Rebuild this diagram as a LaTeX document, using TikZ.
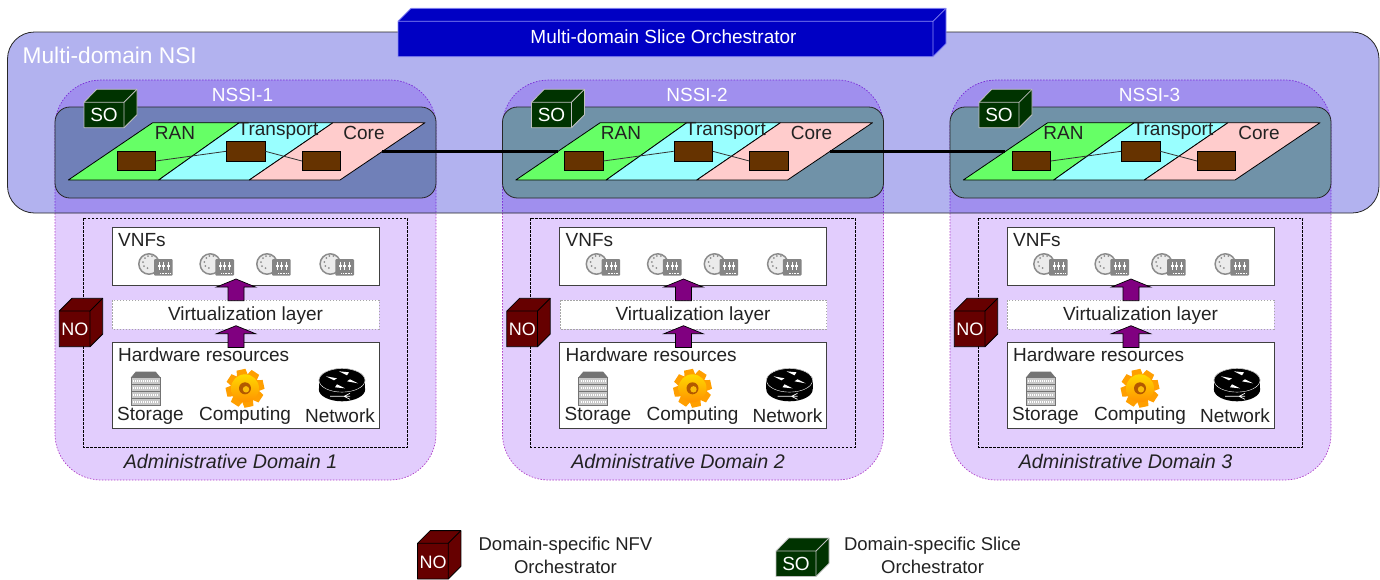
\documentclass[tikz,border=0pt]{standalone}
\usepackage{fontspec}
\setmainfont{Liberation Sans}
\usetikzlibrary{calc}
\definecolor{nsifill}{HTML}{B2B2EF}
\definecolor{domlight}{HTML}{E2CDFD}
\definecolor{domdark}{HTML}{A08FEE}
\definecolor{domline}{HTML}{B040C8}
\definecolor{slicea}{HTML}{7080B8}
\definecolor{sliceb}{HTML}{7092A8}
\definecolor{ranfill}{HTML}{66FF66}
\definecolor{transfill}{HTML}{99FFFF}
\definecolor{corefill}{HTML}{FFCCCC}
\definecolor{vnffill}{HTML}{663300}
\definecolor{sofill}{HTML}{003300}
\definecolor{nofill}{HTML}{660000}
\definecolor{mdsofill}{HTML}{0000C4}
\definecolor{mdsoline}{HTML}{8C8CF5}
\definecolor{arrowfill}{HTML}{800080}
\definecolor{inktext}{HTML}{222222}
\tikzset{
  txt/.style={inner sep=0pt,text=inktext,font=\fontsize{19}{23}\selectfont},
  whitetxt/.style={txt,text=white},
  sublabel/.style={txt,font=\fontsize{18.5}{23}\selectfont,align=center},
  domainbox/.style={rounded corners=46pt,dashed,dash pattern=on 1.5pt off 1.5pt,draw=domline,line width=0.7pt},
  layerbox/.style={draw=black!75,fill=white,line width=0.8pt},
  parallel/.style={draw=black,line width=0.8pt,line join=round},
  vnfbox/.style={draw=black,fill=vnffill,line width=0.8pt,minimum width=38.4pt,minimum height=19.4pt,inner sep=0pt},
  vnflink/.style={draw=black!80,line width=0.8pt},
  slicelink/.style={draw=black,line width=3pt},
  socube/.pic={
    \draw[fill=sofill,draw=black!25,line width=0.8pt,line join=round] (0,0) -- (12.7,-13) -- (53,-13) -- (53,12.4) -- (40,25.4) -- (0,25.4) -- cycle;
    \draw[draw=black!25,line width=0.8pt,line join=round] (0,0) -- (40,0) -- (40,25.4) (40,0) -- (53,-13);
    \node[whitetxt] (-txt) at (20,13) {SO};
  },
  nocube/.pic={
    \draw[fill=nofill,draw=black,line width=0.8pt,line join=round] (0,0) -- (12.7,-12.7) -- (43.4,-12.7) -- (43.4,23) -- (30.7,35.7) -- (0,35.7) -- cycle;
    \draw[draw=black,line width=0.8pt,line join=round] (0,0) -- (30.7,0) -- (30.7,35.7) (30.7,0) -- (43.4,-12.7);
    \node[whitetxt,font=\fontsize{18}{22}\selectfont] (-txt) at (15.5,18.5) {NO};
  },
  vnficon/.pic={
    \draw[draw=black!45,fill=black!8,line width=1.5pt] (-5,5) circle (10.2);
    \foreach \dotx/\doty in {-11/3,-9/-1,-6/-3,-10/7,-6.5/9,-2/-3}
      \fill[black!45] (\dotx,\doty) circle (1);
    \fill[black!48,rounded corners=1pt] (0,0) rectangle (18.7,16.7);
    \foreach \fx in {5,9.5,14}{
      \draw[white,line width=0.8pt] (\fx,2.5) -- (\fx,11);
      \fill[white] (\fx-1.5,6) rectangle (\fx+1.5,7.6);
    }
    \draw[white,line width=0.8pt,dash pattern=on 1pt off 0.6pt] (6,14) -- (17,14);
  },
  uparrow/.pic={
    \draw[fill=arrowfill,draw=black,line width=0.7pt,line join=miter] (0,0) -- (19.5,8) -- (8,8) -- (8,21.7) -- (-8,21.7) -- (-8,8) -- (-19.5,8) -- cycle;
  },
  storageicon/.pic={
    \fill[fill=black!55] (5,0) -- (25,0) -- (30,6) -- (0,6) -- cycle;
    \foreach \sy in {6,13,20,27}{
      \draw[draw=black!55,fill=black!22,line width=0.9pt] (0.5,\sy) rectangle (29.5,\sy+7);
      \draw[white,line width=1.6pt,dash pattern=on 1.2pt off 0.8pt] (2.5,\sy+3.5) -- (27.5,\sy+3.5);
    }
  },
  gearicon/.pic={
    \foreach \a in {0,45,...,315}
      \fill[fill=orange!75!yellow,rotate=\a+12] (-4.5,-19) -- (4.5,-19) -- (6,-10) -- (-6,-10) -- cycle;
    \shade[top color=yellow!70!orange,bottom color=orange!85!yellow] (0,0) circle (14);
    \fill[fill=orange!70!black] (0,0) circle (6);
    \fill[fill=yellow!50!orange] (1,1) circle (3.2);
  },
  routericon/.pic={
    \fill[black] (0,21) ellipse [x radius=23.2,y radius=12];
    \fill[black] (-23.2,12) rectangle (23.2,21);
    \fill[black] (0,12) ellipse [x radius=23.2,y radius=12];
    \draw[white,line width=0.4pt] (0,12) ellipse [x radius=23,y radius=11.8];
    \fill[white] (-16,8) -- (-5,10) -- (-8,12) -- cycle;
    \fill[white] (16,15) -- (5,13) -- (8,11) -- cycle;
    \fill[white] (-3,3) -- (5,7) -- (7,4) -- cycle;
    \fill[white] (3,20) -- (-5,16) -- (-7,19) -- cycle;
    \draw[white,line width=0.7pt] (-12,28) -- (2,28) -- (8,25) (2,28) -- (8,28) (2,28) -- (8,31);
  }
}
\begin{document}
\begin{tikzpicture}[x=1pt,y=-1pt]
\useasboundingbox (0,0) rectangle (1380,579);
\foreach \dx in {0,447.5,895}
  \path[domainbox,fill=domlight] (55+\dx,80) rectangle (436+\dx,480);
\fill[nsifill,rounded corners=27pt] (7.5,32) rectangle (1379,213);
\begin{scope}
\clip[rounded corners=27pt] (7.5,32) rectangle (1379,213);
\foreach \dx in {0,447.5,895}
  \path[domainbox,draw=domline!70!blue,fill=domdark] (55+\dx,80) rectangle (436+\dx,480);
\end{scope}
\draw[black!85,line width=0.8pt,rounded corners=27pt] (7.5,32) rectangle (1379,213);
\node[whitetxt,anchor=west,font=\fontsize{22.7}{26}\selectfont] (nsilabel) at (22.5,55) {Multi-domain NSI};
\foreach \i/\dx/\sc/\nx/\rx in {1/0/slicea/242.5/175,2/447.5/sliceb/249.5/173.5,3/895/sliceb/254.5/168.5}{
\begin{scope}[xshift=\dx pt]
\draw[draw=black!85,fill=\sc,line width=0.8pt,rounded corners=15pt] (55,107) rectangle (436,198);
\node[whitetxt] (nssi\i) at (\nx,95) {NSSI-\i};
\path[parallel,fill=ranfill] (68.3,180) -- (152.7,122.7) -- (239.3,122.7) -- (158.7,180) -- cycle;
\path[parallel,fill=transfill] (158.7,180) -- (239.3,122.7) -- (333,122.7) -- (249.3,180) -- cycle;
\path[parallel,fill=corefill] (249.3,180) -- (333,122.7) -- (425,122.7) -- (340,180) -- cycle;
\coordinate (ranin\i) at (110.3,151.5);
\coordinate (coreout\i) at (382,151.5);
\node[txt] (ran\i) at (\rx,133) {RAN};
\node[txt] (transport\i) at (278,131) {Transport};
\node[txt] (core\i) at (364,133) {Core};
\node[vnfbox] (vnfa\i) at (136.2,161) {};
\node[vnfbox] (vnfb\i) at (245.7,151.3) {};
\node[vnfbox] (vnfc\i) at (321.5,161) {};
\draw[vnflink] (vnfa\i.east) -- (vnfb\i.west);
\draw[vnflink] (vnfb\i.east) -- (vnfc\i.west);
\pic (so\i) at (84,102.3) {socube};
\draw[black,line width=0.7pt,dash pattern=on 2.5pt off 1.5pt] (83.3,218.3) rectangle (407.7,447.3);
\path[layerbox] (112.3,227.3) rectangle (379,285);
\node[txt,anchor=west] (vnfs\i) at (118,240.5) {VNFs};
\foreach \ix in {154,215.3,272,335.3}
  \pic at (\ix,259) {vnficon};
\path[draw=black!35,dash pattern=on 1.5pt off 1.5pt,fill=white] (112.3,300) rectangle (379,328.7);
\node[txt] (virt\i) at (245.5,316) {Virtualization layer};
\path[layerbox] (112.3,342) rectangle (379,428);
\node[txt,anchor=west] (hw\i) at (118,355) {Hardware resources};
\pic at (236,279) {uparrow};
\pic at (236,325.7) {uparrow};
\pic at (130.7,371.7) {storageicon};
\pic at (245,388.3) {gearicon};
\pic at (342,368.3) {routericon};
\node[txt] (storage\i) at (150.5,416) {Storage};
\node[txt] (computing\i) at (245,416) {Computing};
\node[txt] (network\i) at (340,416) {Network};
\pic (no\i) at (59.3,311) {nocube};
\node[txt,font=\fontsize{19.7}{23}\selectfont\itshape] (admin\i) at (230.5,461) {Administrative Domain \i};
\end{scope}
}
\draw[slicelink] (coreout1) -- (ranin2);
\draw[slicelink] (coreout2) -- (ranin3);
\draw[fill=mdsofill,draw=mdsoline,line width=0.8pt,line join=round] (398,21.3) -- (411,8.3) -- (946,8.3) -- (946,43.7) -- (933,56.7) -- (398,56.7) -- cycle;
\draw[draw=mdsoline,line width=0.8pt,line join=round] (398,21.3) -- (933,21.3) -- (933,56.7) (933,21.3) -- (946,8.3);
\node[whitetxt] (mdso) at (663.5,37) {Multi-domain Slice Orchestrator};
\pic (nolegend) at (417.5,543.3) {nocube};
\node[sublabel] (nolabel) at (565.5,555.5) {Domain-specific NFV\\Orchestrator};
\pic (solegend) at (776,551) {socube};
\node[sublabel] (solabel) at (932.5,555.5) {Domain-specific Slice\\Orchestrator};
\end{tikzpicture}
\end{document}
